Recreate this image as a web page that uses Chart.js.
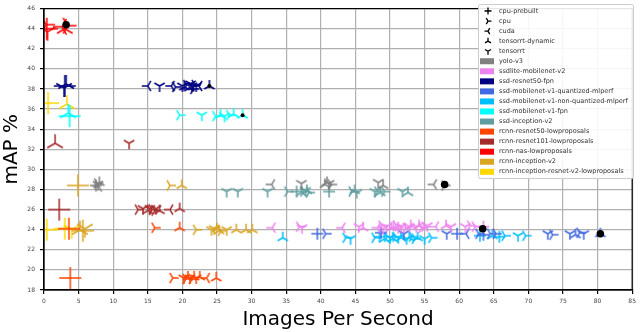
<!DOCTYPE html>
<html>
<head>
<meta charset="utf-8">
<script src="https://cdn.jsdelivr.net/npm/chart.js@4"></script>
<style>
  html, body { margin: 0; padding: 0; background: #fff; }
  #wrap { width: 640px; height: 332px; }
</style>
</head>
<body>
<div id="wrap"><canvas id="myChart"></canvas></div>
<script>
// backends (marker codes) and models
const backends = ["cpu-prebuilt", "cpu", "cuda", "tensorrt-dynamic", "tensorrt"];
const backendCodes = ["P", "R", "L", "U", "D"];
const models = [
  "yolo-v3", "ssdlite-mobilenet-v2", "ssd-resnet50-fpn",
  "ssd-mobilenet-v1-quantized-mlperf", "ssd-mobilenet-v1-non-quantized-mlperf",
  "ssd-mobilenet-v1-fpn", "ssd-inception-v2", "rcnn-resnet50-lowproposals",
  "rcnn-resnet101-lowproposals", "rcnn-nas-lowproposals", "rcnn-inception-v2",
  "rcnn-inception-resnet-v2-lowproposals"
];
const xTicks = [0, 5, 10, 15, 20, 25, 30, 35, 40, 45, 50, 55, 60, 65, 70, 75, 80, 85];
const yTicks = [18, 20, 22, 24, 26, 28, 30, 32, 34, 36, 38, 40, 42, 44, 46];

// [images per second, mAP %, backend]
const yoloV3 = [[7.5,28.4,"P"],[7.7,28.6,"R"],[7.9,28.3,"L"],[8.0,28.7,"U"],[7.8,28.5,"D"],[32.9,28.5,"L"],[37.2,28.6,"D"],[40.6,28.5,"U"],[40.9,28.7,"U"],[41.2,28.6,"D"],[41.5,28.5,"R"],[48.3,28.7,"D"],[49.0,28.4,"U"],[56.3,28.5,"L"],[57.9,28.4,"R"]];
const ssdlite = [[33.0,24.2,"L"],[36.9,24.3,"R"],[37.3,24.2,"D"],[43.1,24.2,"L"],[45.5,24.3,"D"],[46.1,24.2,"U"],[48.2,24.2,"L"],[48.8,24.4,"R"],[49.0,24.1,"D"],[49.5,24.3,"D"],[50.2,24.2,"U"],[50.5,24.3,"U"],[50.9,24.4,"R"],[51.2,24.2,"P"],[51.6,24.3,"D"],[52.3,24.2,"R"],[52.8,24.3,"D"],[53.0,24.4,"U"],[53.8,24.3,"D"],[54.2,24.4,"U"],[54.6,24.2,"R"],[55.0,24.3,"R"],[55.4,24.4,"D"],[56.6,24.3,"L"],[58.1,24.4,"U"],[58.8,24.3,"D"],[60.9,24.3,"D"],[61.6,24.4,"R"],[62.3,24.3,"R"],[63.5,24.3,"P"]];
const ssdResnet50Fpn = [[3.0,38.3,"P"],[3.2,38.5,"U"],[2.9,38.1,"D"],[15.0,38.3,"L"],[16.7,38.3,"D"],[18.4,38.3,"L"],[19.0,38.2,"R"],[20.0,38.3,"D"],[20.3,38.2,"U"],[20.6,38.4,"R"],[21.0,38.1,"U"],[21.2,38.5,"D"],[21.4,38.3,"D"],[21.6,38.0,"R"],[21.8,38.4,"R"],[22.0,38.3,"D"],[22.4,38.3,"L"],[23.9,38.3,"U"]];
const ssdMobilenetQuant = [[39.5,23.6,"P"],[40.7,23.6,"R"],[48.7,23.7,"P"],[52.0,23.6,"D"],[58.2,23.6,"D"],[59.7,23.6,"P"],[61.0,23.6,"L"],[62.8,23.6,"R"],[63.5,23.5,"P"],[64.5,23.6,"R"],[65.3,23.6,"R"],[72.8,23.6,"D"],[73.5,23.5,"R"],[76.0,23.6,"D"],[76.8,23.5,"U"],[77.4,23.7,"R"],[78.0,23.6,"D"],[80.4,23.6,"U"]];
const ssdMobilenetNonQuant = [[34.5,23.2,"U"],[43.6,23.2,"R"],[44.3,23.1,"D"],[47.8,23.2,"R"],[48.5,23.3,"P"],[49.2,23.1,"U"],[49.6,23.3,"R"],[50.0,23.2,"D"],[50.4,23.1,"U"],[50.8,23.3,"R"],[51.2,23.2,"D"],[51.6,23.2,"U"],[52.4,23.1,"D"],[52.8,23.2,"U"],[53.2,23.3,"R"],[53.6,23.1,"R"],[54.0,23.2,"U"],[55.0,23.1,"D"],[56.0,23.2,"R"],[63.0,23.4,"P"],[64.8,23.4,"U"],[65.8,23.3,"P"],[66.6,23.4,"R"],[68.5,23.4,"D"],[69.6,23.4,"R"]];
const ssdMobilenetFpn = [[3.7,35.3,"P"],[3.5,35.6,"U"],[19.6,35.4,"R"],[22.8,35.4,"D"],[24.8,35.3,"R"],[25.5,35.4,"U"],[26.1,35.3,"D"],[26.8,35.4,"R"],[27.4,35.5,"U"],[28.7,35.4,"U"]];
const ssdInception = [[26.4,27.8,"D"],[28.0,27.8,"D"],[32.3,27.8,"D"],[35.2,27.8,"R"],[36.5,27.8,"P"],[37.2,27.7,"U"],[37.5,27.8,"R"],[37.8,27.9,"D"],[38.0,27.9,"U"],[38.3,27.7,"R"],[41.2,27.8,"P"],[44.5,27.8,"R"],[44.9,27.9,"U"],[45.2,27.7,"D"],[47.8,27.8,"D"],[48.2,27.8,"R"],[48.6,27.7,"U"],[49.2,27.8,"R"],[51.8,27.8,"D"],[52.6,27.7,"U"]];
const rcnnResnet50 = [[3.8,19.2,"P"],[3.6,24.1,"P"],[16.0,24.2,"R"],[19.6,24.2,"U"],[18.6,19.2,"R"],[20.2,19.2,"D"],[20.5,19.1,"R"],[20.8,19.3,"U"],[21.1,19.2,"D"],[21.4,19.1,"R"],[21.7,19.3,"U"],[22.0,19.2,"D"],[22.5,19.3,"U"],[23.5,19.2,"L"],[24.9,19.2,"U"]];
const rcnnResnet101 = [[2.2,26.0,"P"],[1.6,32.6,"U"],[12.3,32.6,"D"],[13.6,26.0,"R"],[14.3,26.1,"D"],[15.0,25.9,"U"],[15.3,26.1,"D"],[15.6,26.0,"R"],[16.0,25.9,"R"],[16.2,26.1,"D"],[16.7,25.9,"U"],[18.2,26.0,"L"],[19.6,26.1,"U"]];
const rcnnNas = [[0.4,44.0,"P"],[0.3,44.4,"R"],[0.5,43.7,"D"],[2.6,44.2,"L"],[3.0,44.0,"U"],[3.4,44.3,"R"]];
const rcnnInception = [[4.9,28.4,"P"],[18.2,28.4,"R"],[19.9,28.4,"U"],[5.2,24.0,"U"],[5.6,23.9,"P"],[5.9,24.1,"D"],[22.0,24.0,"R"],[24.2,24.0,"D"],[24.6,24.1,"D"],[25.0,24.1,"U"],[25.3,23.9,"U"],[25.6,23.9,"R"],[26.4,24.0,"D"],[27.8,24.0,"U"],[29.2,24.0,"U"],[30.1,24.0,"U"]];
const rcnnIncepResnet = [[0.4,24.0,"P"],[3.0,24.1,"P"],[4.0,24.0,"D"],[0.6,36.6,"P"],[3.3,36.5,"U"]];
// black dots
const bestPoints = [[3.2,44.4],[23.9,38.3],[28.7,35.4],[57.9,28.5],[63.4,24.1],[80.4,23.6]];

const modelData = [yoloV3, ssdlite, ssdResnet50Fpn, ssdMobilenetQuant, ssdMobilenetNonQuant,
  ssdMobilenetFpn, ssdInception, rcnnResnet50, rcnnResnet101, rcnnNas, rcnnInception, rcnnIncepResnet];
const modelColors = ["#808080", "#ee82ee", "#000080", "#4169e1", "#00bfff", "#00ffff",
  "#5f9ea0", "#ff4500", "#a52a2a", "#ff0000", "#daa520", "#ffd700"];

function drawMarker(c, m, x, y, r) {
  c.beginPath();
  if (m == "P") {
    c.moveTo(x - r, y); c.lineTo(x + r, y);
    c.moveTo(x, y - r); c.lineTo(x, y + r);
  } else {
    let angles = { R: [0, 120, 240], L: [180, 60, 300], U: [90, 210, 330], D: [270, 30, 150] }[m];
    for (let a of angles) {
      let rad = a * Math.PI / 180;
      c.moveTo(x, y);
      c.lineTo(x + r * Math.cos(rad), y - r * Math.sin(rad));
    }
  }
  c.stroke();
}

let cache = {};
function markerImage(m, color, r) {
  let key = m + color + r;
  if (!cache[key]) {
    let cv = document.createElement("canvas");
    cv.width = cv.height = 2 * r + 4;
    let c = cv.getContext("2d");
    c.strokeStyle = color;
    c.lineWidth = 1.5;
    drawMarker(c, m, r + 2, r + 2, r);
    cache[key] = cv;
  }
  return cache[key];
}

let datasets = [{
  label: "best",
  data: bestPoints.map(p => ({ x: p[0], y: p[1] })),
  pointStyle: "circle",
  pointRadius: ctx => (ctx.raw && ctx.raw.y > 35 && ctx.raw.x > 10 ? 2 : 3.8),
  backgroundColor: "#000",
  borderColor: "#000",
  borderWidth: 0,
}];
for (let i in models) {
  let color = modelColors[i];
  datasets.push({
    label: models[i],
    data: modelData[i].map(p => ({ x: p[0], y: p[1], m: p[2] })),
    borderColor: color,
    backgroundColor: color,
    pointStyle: ctx => {
      let raw = ctx.raw || { m: "P", x: 10 };
      let r = raw.x < 6 ? (raw.m == "P" ? 11 : 9) : 6;
      return markerImage(raw.m, color, r);
    },
  });
}

const legendBox = {
  id: "legendBox",
  afterDraw(chart) {
    let c = chart.ctx;
    let x0 = 478, y0 = 4, w = 155, h = 174;
    c.save();
    c.fillStyle = "rgba(255,255,255,0.9)";
    c.strokeStyle = "#cccccc";
    c.lineWidth = 1;
    c.beginPath();
    c.roundRect(x0 + 0.5, y0 + 0.5, w, h, 2);
    c.fill();
    c.stroke();
    c.font = "6.5px 'DejaVu Sans'";
    c.textBaseline = "middle";
    let row = 0;
    let rowY = r => 11 + r * 10.05;
    for (let i in backends) {
      let y = rowY(row++);
      c.strokeStyle = "#000";
      c.lineWidth = 1.3;
      drawMarker(c, backendCodes[i], 488, y, 3.5);
      c.fillStyle = "#333";
      c.fillText(backends[i], 499, y);
    }
    for (let i in models) {
      let y = rowY(row++);
      c.fillStyle = modelColors[i];
      c.fillRect(480, y - 3, 14, 6);
      c.fillStyle = "#333";
      c.fillText(models[i], 499, y);
    }
    c.restore();
  },
};

const frame = {
  id: "frame",
  afterDatasetsDraw(chart) {
    let a = chart.chartArea, c = chart.ctx;
    c.save();
    c.strokeStyle = "#000";
    c.lineWidth = 1.2;
    c.strokeRect(a.left, a.top, a.right - a.left, a.bottom - a.top);
    c.restore();
  },
};

const ctx = document.getElementById("myChart");
const myChart = new Chart(ctx, {
  type: "scatter",
  data: { datasets: datasets },
  options: {
    responsive: true,
    maintainAspectRatio: false,
    animation: false,
    layout: { padding: { top: 3, right: 6, left: 0, bottom: 0 } },
    plugins: { legend: { display: false }, tooltip: { enabled: false } },
    scales: {
      x: {
        type: "linear",
        min: 0,
        max: 85,
        afterFit: s => { s.height = 42; },
        afterBuildTicks: s => { s.ticks = xTicks.map(v => ({ value: v })); },
        grid: { color: "#b0b0b0", lineWidth: 1.2, tickColor: "#000", tickLength: 4 },
        border: { color: "#000", width: 1.2 },
        ticks: { font: { family: "DejaVu Sans", size: 6 }, color: "#444", padding: 4, maxRotation: 0 },
        title: { display: true, text: "Images Per Second", font: { family: "DejaVu Sans", size: 20 }, color: "#000", padding: { top: 0, bottom: 0 } },
      },
      y: {
        type: "linear",
        min: 18,
        max: 46,
        afterFit: s => { s.width = 44; },
        afterBuildTicks: s => { s.ticks = yTicks.map(v => ({ value: v })); },
        grid: { color: "#b0b0b0", lineWidth: 1.2, tickColor: "#000", tickLength: 4 },
        border: { color: "#000", width: 1.2 },
        ticks: { font: { family: "DejaVu Sans", size: 6 }, color: "#444", padding: 5 },
        title: { display: true, text: "mAP %", font: { family: "DejaVu Sans", size: 20 }, color: "#000", padding: { top: 0, bottom: 0 } },
      },
    },
  },
  plugins: [frame, legendBox],
});
</script>
</body>
</html>
